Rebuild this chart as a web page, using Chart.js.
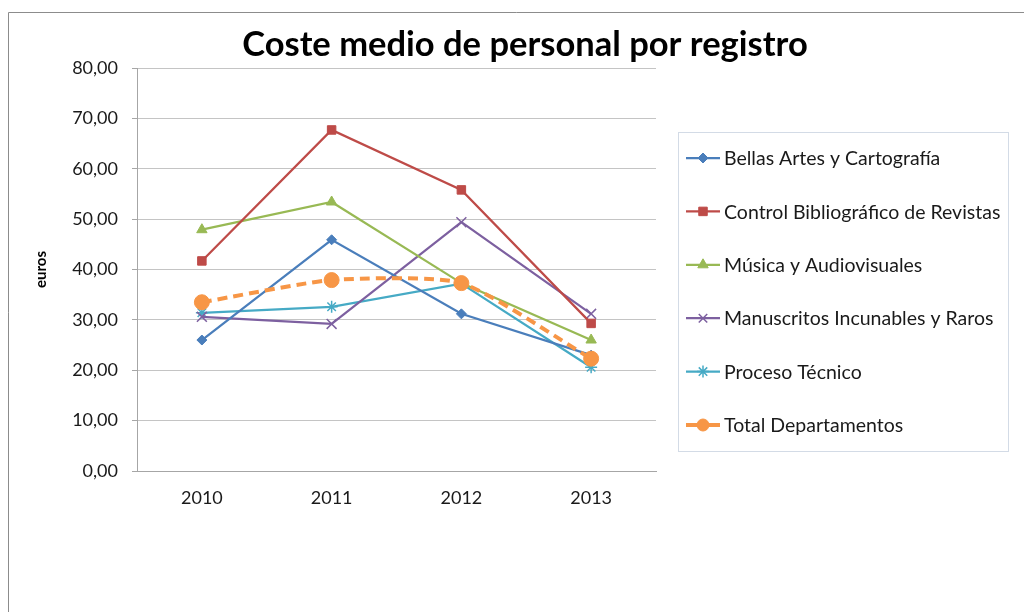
<!DOCTYPE html>
<html><head><meta charset="utf-8">
<script src="https://cdn.jsdelivr.net/npm/chart.js@4"></script>
<style>html,body{margin:0;padding:0;background:#fff}#wrap{position:relative;width:1024px;height:612px}</style>
</head><body><div id="wrap"><canvas id="c" width="1024" height="612"></canvas></div>
<script>
const chartTitle = 'Coste medio de personal por registro';
const yAxisTitle = 'euros';
const years = ['2010', '2011', '2012', '2013'];
const yTicks = [0, 10, 20, 30, 40, 50, 60, 70, 80];
const seriesNames = [
  'Bellas Artes y Cartografía',
  'Control Bibliográfico de Revistas',
  'Música y Audiovisuales',
  'Manuscritos Incunables y Raros',
  'Proceso Técnico',
  'Total Departamentos'
];
const bellasArtes    = [26.0, 45.9, 31.2, 23.0];
const controlBiblio  = [41.7, 67.7, 55.8, 29.3];
const musica         = [47.9, 53.4, 37.3, 26.0];
const manuscritos    = [30.6, 29.2, 49.4, 31.2];
const procesoTecnico = [31.4, 32.6, 37.2, 20.6];
const totalDept      = [33.5, 37.9, 37.3, 22.3];

const FONT = 'Lato, "Open Sans", sans-serif';
const seriesData = [bellasArtes, controlBiblio, musica, manuscritos, procesoTecnico, totalDept];
const colors = ['#4A7EBB', '#BE4B48', '#98B954', '#7D60A0', '#46AAC5', '#F79646'];
const styles = [
  {pointStyle: 'rectRot', radius: 5, borderWidth: 1, lineWidth: 2.25},
  {pointStyle: 'rect', radius: 6, borderWidth: 1, lineWidth: 2.25},
  {pointStyle: 'triangle', radius: 6, borderWidth: 1, lineWidth: 2.25},
  {pointStyle: 'crossRot', radius: 7, borderWidth: 1.5, lineWidth: 2.25},
  {pointStyle: 'star', radius: 6, borderWidth: 1.5, lineWidth: 2.25},
  {pointStyle: 'circle', radius: 7.5, borderWidth: 1, lineWidth: 4, dash: [10, 6]}
];

const datasets = seriesNames.map((name, i) => ({
  label: name,
  data: seriesData[i],
  borderColor: colors[i],
  backgroundColor: colors[i],
  pointBackgroundColor: colors[i],
  pointBorderColor: colors[i],
  borderWidth: styles[i].lineWidth,
  borderDash: styles[i].dash || [],
  pointStyle: styles[i].pointStyle,
  pointRadius: styles[i].radius,
  pointBorderWidth: styles[i].borderWidth,
  pointHoverRadius: styles[i].radius,
  tension: i === 5 ? 0.2 : 0,
  order: i === 5 ? 0 : 1
}));

const framePlugin = {
  id: 'frame',
  beforeDraw(chart) {
    const ctx = chart.ctx;
    ctx.save();
    ctx.strokeStyle = '#8c8c8c';
    ctx.lineWidth = 1;
    ctx.beginPath();
    ctx.moveTo(8.5, 612);
    ctx.lineTo(8.5, 12.5);
    ctx.lineTo(1024, 12.5);
    ctx.stroke();
    ctx.restore();
  },
  afterDraw(chart) {
    const ctx = chart.ctx;
    ctx.save();
    // Title
    ctx.fillStyle = '#000';
    ctx.font = 'bold 34.5px ' + FONT;
    ctx.textAlign = 'center';
    ctx.textBaseline = 'middle';
    ctx.fillText(chartTitle, 525, 45);
    // Legend box
    const bx = 678.5, by = 132.5, bw = 330, bh = 319;
    ctx.strokeStyle = '#d3dbe6';
    ctx.lineWidth = 1;
    ctx.strokeRect(bx, by, bw, bh);
    ctx.font = '19.5px ' + FONT;
    ctx.textAlign = 'left';
    chart.data.datasets.forEach((ds, i) => {
      const y = 158 + i * 53.4;
      ctx.strokeStyle = ds.borderColor;
      ctx.lineWidth = ds.borderWidth;
      ctx.setLineDash([]);
      ctx.beginPath();
      ctx.moveTo(686, y);
      ctx.lineTo(720, y);
      ctx.stroke();
      ctx.fillStyle = ds.pointBackgroundColor;
      ctx.strokeStyle = ds.pointBorderColor;
      ctx.lineWidth = ds.pointBorderWidth;
      Chart.helpers.drawPoint(ctx, {pointStyle: ds.pointStyle, radius: Math.min(ds.pointRadius, 6), rotation: 0, borderWidth: ds.pointBorderWidth}, 703, y);
      ctx.fillStyle = '#1a1a1a';
      ctx.fillText(ds.label, 724, y + 1);
    });
    ctx.restore();
  }
};

new Chart(document.getElementById('c'), {
  type: 'line',
  data: {labels: years, datasets},
  options: {
    responsive: false,
    animation: false,
    devicePixelRatio: 1,
    layout: {padding: {left: 10, top: 68, right: 368, bottom: 96}},
    plugins: {legend: {display: false}, title: {display: false}, tooltip: {enabled: false}},
    scales: {
      x: {
        offset: true,
        grid: {display: false, drawTicks: false},
        border: {color: '#a6a6a6', width: 1},
        ticks: {color: '#1a1a1a', font: {family: FONT, size: 18}, padding: 16},
        afterFit(s) { s.height = 45; }
      },
      y: {
        min: 0, max: 80,
        afterBuildTicks(s) { s.ticks = yTicks.map(v => ({value: v})); },
        grid: {color: '#c4c4c4', lineWidth: 1, tickLength: 5, drawTicks: true, tickColor: '#a6a6a6'},
        border: {color: '#a6a6a6', width: 1},
        ticks: {
          color: '#1a1a1a', font: {family: FONT, size: 18}, padding: 14,
          callback: v => v.toFixed(2).replace('.', ',')
        },
        title: {display: true, text: yAxisTitle, color: '#000', font: {family: FONT, size: 15, weight: 'bold'}, padding: {top: 22, bottom: 0}},
        afterFit(s) { s.width = 127; }
      }
    }
  },
  plugins: [framePlugin]
});
</script></body></html>
